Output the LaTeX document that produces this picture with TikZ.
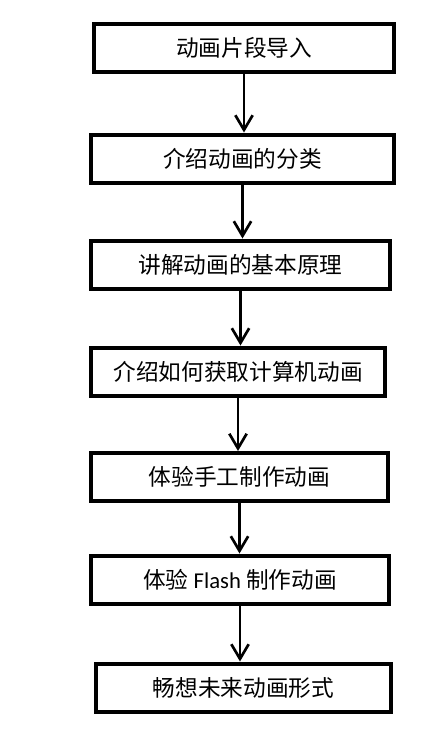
\documentclass[tikz,border=0pt]{standalone}
\usepackage{fontspec}
\setmainfont{Noto Sans CJK SC}
\newfontfamily\latinfont{Carlito}
\usetikzlibrary{
  arrows.meta
}
\newcommand{\flStep}[4]{\node[stepbox, minimum width=#3] (#1) at (#2) {#4};}
\tikzset{
  stepbox/.style={
    draw=black,
    line width=3pt,
    minimum height=36pt,
    inner sep=0pt,
    font=\fontsize{17}{20}\selectfont
  }
}

\begin{document}
\begin{tikzpicture}[
    x=0.75pt, y=-0.75pt,
    >={Straight Barb[length=11pt,width=13pt]},
    line width=2pt
  ]
  \useasboundingbox (0,0) rectangle (442,743);
  \flStep{intro}{244,47.5}{225pt}{动画片段导入}
  \flStep{kinds}{242.5,158.5}{227pt}{介绍动画的分类}
  \flStep{basics}{240.5,264.5}{224pt}{讲解动画的基本原理}
  \flStep{obtain}{238,371.5}{220.5pt}{介绍如何获取计算机动画}
  \flStep{handmade}{239.5,477}{223pt}{体验手工制作动画}
  \flStep{flash}{240,579.5}{223.5pt}{体验 {\latinfont Flash} 制作动画}
  \flStep{future}{243.5,687.5}{221pt}{畅想未来动画形式}

  \path[->]
  (intro)    edge (intro |- kinds.north)
  (kinds)    edge (kinds |- basics.north)
  (basics)   edge (basics |- obtain.north)
  (obtain)   edge (obtain |- handmade.north)
  (handmade) edge (handmade |- flash.north)
  (flash)    edge (flash |- future.north)
  ;
\end{tikzpicture}
\end{document}
